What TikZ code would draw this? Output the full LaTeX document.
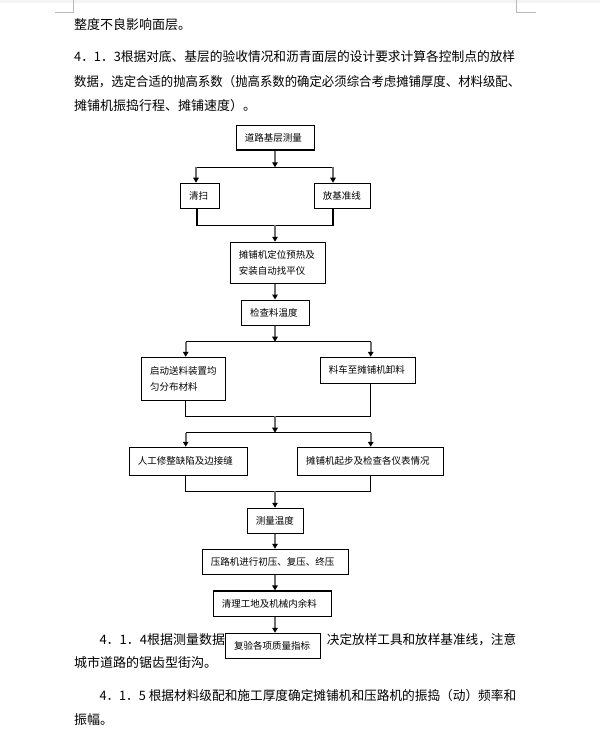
\documentclass[tikz,border=0pt]{standalone}
\usepackage{fontspec}
\newfontfamily\cjk{Noto Sans CJK SC}
\definecolor{shaftgray}{RGB}{110,110,110}
\definecolor{markgray}{RGB}{185,185,185}
\definecolor{bandgray}{RGB}{244,244,244}
\usetikzlibrary{arrows.meta,positioning}
\newcommand{\bodyfont}{\cjk\fontsize{13}{16}\selectfont}
\newcommand{\boxfont}{\cjk\fontsize{9.5}{15.5}\selectfont}
\newcommand{\fitline}[2]{\resizebox{#1}{\height}{#2}}

\begin{document}
\begin{tikzpicture}[x=1pt,y=-1pt,
    stepbox/.style={draw, line width=1.1pt, fill=white, inner xsep=8.5pt, inner ysep=0pt, align=left, font=\boxfont},
    flow/.style={draw=shaftgray, line width=1.8pt, -{Triangle[color=black,length=5pt,width=5.5pt]}},
    joinline/.style={draw=black, line width=1.1pt},
    bodytext/.style={anchor=west, inner sep=0pt, font=\bodyfont}]
                % page
                \useasboundingbox (0,0) rectangle (600,751);
                \fill[white] (0,0) rectangle (600,751);
                \fill[bandgray] (0,0) rectangle (600,3);
                \draw[markgray, line width=0.8pt] (55,12.3) -- (73.3,12.3) -- (73.3,0);
                \draw[markgray, line width=0.8pt] (516,0) -- (516,12.3) -- (535.7,12.3);

                % running text
                \node[bodytext] (line1) at (74,25) {整度不良影响面层。};
                \node[bodytext] (line2) at (74,56.7) {\fitline{441pt}{4．1．3根据对底、基层的验收情况和沥青面层的设计要求计算各控制点的放样}};
                \node[bodytext] (line3) at (74,81.7) {\fitline{446pt}{数据，选定合适的抛高系数（抛高系数的确定必须综合考虑摊铺厚度、材料级配、}};
                \node[bodytext] (line4) at (74,106) {摊铺机振捣行程、摊铺速度）。};
                \node[bodytext] (line5a) at (99.3,640) {4．1．4根据测量数据，};
                \node[bodytext] (line5b) at (326.7,640) {\fitline{189.3pt}{决定放样工具和放样基准线，注意}};
                \node[bodytext] (line6) at (74,662.7) {城市道路的锯齿型街沟。};
                \node[bodytext] (line7) at (99.3,695.7) {\fitline{416.7pt}{4．1．5 根据材料级配和施工厚度确定摊铺机和压路机的振捣（动）频率和}};
                \node[bodytext] (line8) at (74,720) {振幅。};

                % flow steps
                \node[stepbox, text width=61pt, minimum height=24.3pt] (survey) at (275.3,137.9) {道路基层测量};
                \node[stepbox, text width=21.6pt, minimum height=25pt] (clean) at (200,195.8) {清扫};
                \node[stepbox, text width=39.4pt, minimum height=25pt] (stake) at (342.5,195.8) {放基准线};
                \node[stepbox, text width=78.4pt, minimum height=41pt] (paver) at (278,262.8) {摊铺机定位预热及\\安装自动找平仪};
                \node[stepbox, text width=50.6pt, minimum height=25.7pt] (temp1) at (275.5,312.9) {检查料温度};
                \node[stepbox, text width=67pt, minimum height=42.7pt] (feed) at (183.7,378.7) {启动送料装置均\\匀分布材料};
                \node[stepbox, text width=78pt, minimum height=26pt] (unload) at (367.8,370.3) {料车至摊铺机卸料};
                \node[stepbox, text width=101pt, minimum height=28pt] (repair) at (188.3,461.3) {人工修整缺陷及边接缝};
                \node[stepbox, text width=128.8pt, minimum height=28pt] (start) at (370.4,461.3) {摊铺机起步及检查各仪表情况};
                \node[stepbox, text width=39pt, minimum height=25pt] (temp2) at (275.3,520.8) {测量温度};
                \node[stepbox, text width=129pt, minimum height=25pt] (roll) at (275.3,561.8) {压路机进行初压、复压、终压};
                \node[stepbox, text width=101.4pt, minimum height=25.7pt] (tidy) at (272.5,603.8) {清理工地及机械内余料};
                \node[stepbox, text width=78pt, minimum height=25pt] (check) at (273.2,645.8) {复验各项质量指标};

                % forks and joins
                \coordinate (fork1) at (275,167.3);
                \coordinate (fork1L) at (196,167.3);
                \coordinate (fork1R) at (333,167.3);
                \coordinate (join1) at (275,225.3);
                \coordinate (join1L) at (197,225.3);
                \coordinate (join1R) at (333,225.3);
                \coordinate (fork2) at (275,341.7);
                \coordinate (fork2L) at (185.7,341.7);
                \coordinate (fork2R) at (370.7,341.7);
                \coordinate (join2) at (275,416.3);
                \coordinate (join2L) at (185.7,416.3);
                \coordinate (join2R) at (370.7,416.3);
                \coordinate (fork3) at (275,432.7);
                \coordinate (fork3L) at (185.7,432.7);
                \coordinate (fork3R) at (370.7,432.7);
                \coordinate (join3) at (275,491.3);
                \coordinate (join3L) at (185.7,491.3);
                \coordinate (join3R) at (370.7,491.3);

                \draw[joinline] (fork1L) -- (fork1R);
                \draw[joinline] (clean.south -| join1L) -- (join1L) -- (join1R) -- (stake.south -| join1R);
                \draw[joinline] (fork2L) -- (fork2R);
                \draw[joinline] (feed.south -| join2L) -- (join2L) -- (join2R) -- (unload.south -| join2R);
                \draw[joinline] (fork3L) -- (fork3R);
                \draw[joinline] (repair.south -| join3L) -- (join3L) -- (join3R) -- (start.south -| join3R);

                % arrows
                \draw[flow] (survey.south -| fork1) -- (fork1);
                \draw[flow] (fork1L) -- (fork1L |- clean.north);
                \draw[flow] (fork1R) -- (fork1R |- stake.north);
                \draw[flow] (join1) -- (join1 |- paver.north);
                \draw[flow] (paver.south -| fork1) -- (temp1.north -| fork1);
                \draw[flow] (temp1.south -| fork2) -- (fork2);
                \draw[flow] (fork2L) -- (fork2L |- feed.north);
                \draw[flow] (fork2R) -- (fork2R |- unload.north);
                \draw[flow] (join2) -- (fork3);
                \draw[flow] (fork3L) -- (fork3L |- repair.north);
                \draw[flow] (fork3R) -- (fork3R |- start.north);
                \draw[flow] (join3) -- (join3 |- temp2.north);
                \draw[flow] (temp2.south -| join3) -- (roll.north -| join3);
                \draw[flow] (roll.south -| join3) -- (tidy.north -| join3);
                \draw[flow] (tidy.south -| join3) -- (check.north -| join3);
            \end{tikzpicture}
\end{document}
